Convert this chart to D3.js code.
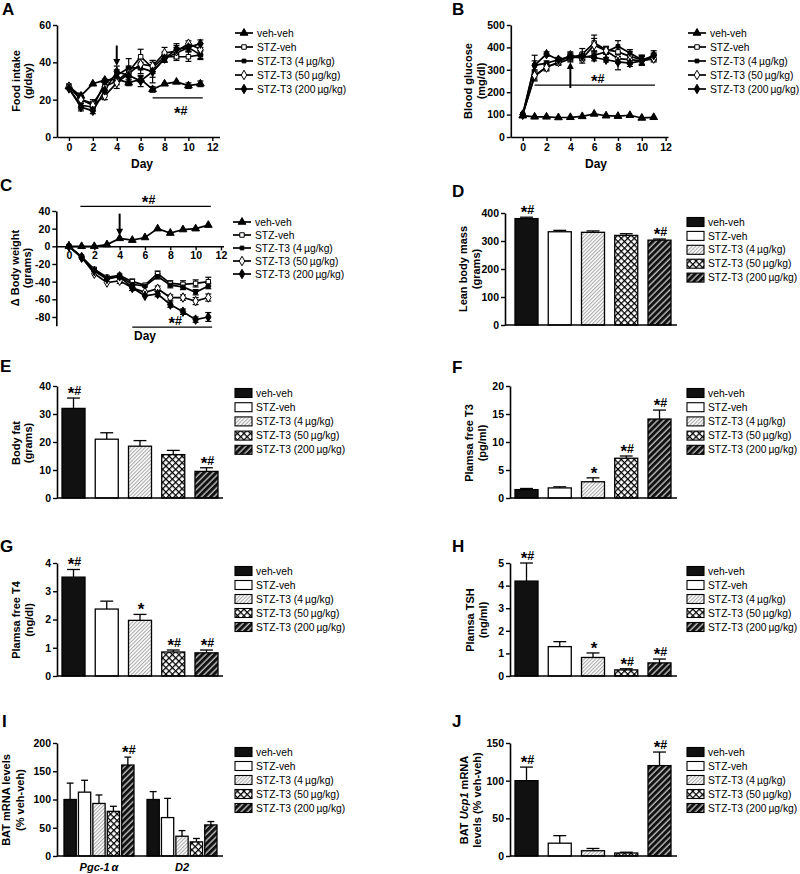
<!DOCTYPE html>
<html><head><meta charset="utf-8">
<script src="https://cdn.jsdelivr.net/npm/d3@7"></script>
<style>
body{margin:0;background:#fff}
svg text{font-family:"Liberation Sans",Arial,Helvetica,sans-serif;fill:#000}
</style></head><body>
<svg id="fig" width="800" height="874"></svg>
<script>
// ---------------- DATA ----------------
const groups = ["veh-veh","STZ-veh","STZ-T3 (4\u2009\u00b5g/kg)","STZ-T3 (50\u2009\u00b5g/kg)","STZ-T3 (200\u2009\u00b5g/kg)"];
const days = [0,1,2,3,4,5,6,7,8,9,10,11];
const dayTicks = [0,2,4,6,8,10,12];

// A: Food intake (g/day)
const foodVehVeh   = [27,22,28.5,30.5,31,29,31,25.5,28.5,29.5,27.5,28.5];
const foodVehVehErr= [1,1.5,1,1,1,1.5,1.5,1.5,1,1,1.5,1.5];
const foodStzVeh   = [27.5,20,18,27,30,35,43,37,43,43,43,44];
const foodStzVehErr= [1,2,2,2,2,3,4,3,2.5,2,2.5,2.5];
const foodT3_4     = [26,17,16,29,33,37,37,35,42,45,48,44];
const foodT3_4Err  = [1,2,1.5,2,3,5,3,3,2,3,2,2];
const foodT3_50    = [27,20,17,22,29,34,39,38,45,46,50,47];
const foodT3_50Err = [1,2,1.5,2,3,3,3,3,3,3,1.5,3];
const foodT3_200   = [26,16,14,25,35,33,30,35,42,47,48,50];
const foodT3_200Err= [1,2,1.5,2,3,4,3,6,2,3,2,2];
const foodTicks = [0,20,40,60];

// B: Blood glucose (mg/dl)
const glucVehVeh   = [95,90,90,87,88,92,103,95,93,97,85,88];
const glucVehVehErr= [5,5,5,5,5,5,6,5,5,5,5,5];
const glucStzVeh   = [100,270,315,330,350,370,420,390,380,360,345,360];
const glucStzVehErr= [5,20,15,10,15,25,35,15,20,20,20,15];
const glucT3_4     = [100,320,330,345,355,355,365,380,405,375,345,355];
const glucT3_4Err  = [5,45,10,10,15,15,15,10,25,15,20,15];
const glucT3_50    = [100,275,310,335,365,350,410,385,350,345,340,350];
const glucT3_50Err = [5,20,15,10,15,20,30,15,20,20,20,15];
const glucT3_200   = [100,320,370,345,360,360,355,345,335,330,340,365];
const glucT3_200Err= [5,20,10,10,15,15,15,10,35,15,20,20];
const glucTicks = [0,100,200,300,400,500];

// C: Delta body weight (grams)
const bwVehVeh   = [0,0,0,2,9,7,10,20,15,19,20,24];
const bwVehVehErr= [0.5,1,1,1,1,1,1,2,1.5,1.5,1.5,2];
const bwStzVeh   = [0,-12,-26,-35,-33,-40,-44,-31,-42,-43,-42,-40];
const bwStzVehErr= [1,1.5,2,2,2,3,2,3,3,4,4,5];
const bwT3_4     = [0,-12,-27,-36,-34,-43,-45,-34,-44,-46,-52,-45];
const bwT3_4Err  = [1,1.5,2,2,2,3,2,3,3,3,3,3];
const bwT3_50    = [0,-12,-31,-41,-39,-47,-52,-48,-58,-58,-62,-58];
const bwT3_50Err = [1,1.5,2,2,3,3,2,3,3,3,4,4];
const bwT3_200   = [0,-13,-28,-37,-34,-47,-56,-54,-66,-74,-83,-80];
const bwT3_200Err= [1,1.5,2,2,2,3,2,3,3,3,3,5];
const bwTicks = [-80,-60,-40,-20,0,20,40];

// D-J: bar panels
const leanMass = [380,333,331,320,303];   const leanMassErr = [5,5,5,6,4];   const leanMassSig = ["*#","","","","*#"];
const bodyFat  = [32,21,18.5,15.5,9.5];   const bodyFatErr  = [3.7,2.3,2,1.5,1.3]; const bodyFatSig = ["*#","","","","*#"];
const freeT3   = [1.5,1.8,2.9,7.1,14.1];  const freeT3Err   = [0.2,0.2,0.7,0.4,1.6]; const freeT3Sig = ["","","*","*#","*#"];
const freeT4   = [3.5,2.37,1.97,0.85,0.82]; const freeT4Err = [0.27,0.28,0.21,0.07,0.1]; const freeT4Sig = ["*#","","*","*#","*#"];
const tsh      = [4.2,1.3,0.82,0.27,0.58]; const tshErr     = [0.8,0.22,0.2,0.05,0.17]; const tshSig = ["*#","","*","*#","*#"];
const genesI   = ["Pgc-1","D2"];
const pgc1a    = [100,113,93,79,161];     const pgc1aErr    = [29,21,15,9,14];  const pgc1aSig = ["","","","","*#"];
const d2       = [100,68,35,25,55];       const d2Err       = [14,34,10,6,6];   const d2Sig = ["","","","",""];
const ucp1     = [100,17,7,4,120];        const ucp1Err     = [18,10,3,1,18];   const ucp1Sig = ["*#","","","","*#"];

// ---------------- DRAWING ----------------
const svg = d3.select("#fig");
const defs = svg.append("defs");
let p = defs.append("pattern").attr("id","pLight").attr("patternUnits","userSpaceOnUse")
  .attr("width",2.6).attr("height",2.6).attr("patternTransform","rotate(45)");
p.append("rect").attr("width",2.6).attr("height",2.6).attr("fill","#fff");
p.append("line").attr("x1",0.6).attr("y1",0).attr("x2",0.6).attr("y2",2.6).attr("stroke","#999").attr("stroke-width",0.9);
p = defs.append("pattern").attr("id","pCross").attr("patternUnits","userSpaceOnUse")
  .attr("width",4.6).attr("height",4.6).attr("patternTransform","rotate(45)");
p.append("rect").attr("width",4.6).attr("height",4.6).attr("fill","#fff");
p.append("line").attr("x1",0).attr("y1",0.6).attr("x2",4.6).attr("y2",0.6).attr("stroke","#000").attr("stroke-width",1.3);
p.append("line").attr("x1",0.6).attr("y1",0).attr("x2",0.6).attr("y2",4.6).attr("stroke","#000").attr("stroke-width",1.3);
p = defs.append("pattern").attr("id","pDark").attr("patternUnits","userSpaceOnUse")
  .attr("width",4.4).attr("height",4.4).attr("patternTransform","rotate(45)");
p.append("rect").attr("width",4.4).attr("height",4.4).attr("fill","#111");
p.append("line").attr("x1",1).attr("y1",0).attr("x2",1).attr("y2",4.4).attr("stroke","#fff").attr("stroke-width",1);

const fills = ["#111","#fff","url(#pLight)","url(#pCross)","url(#pDark)"];
const syms = [
  {type:d3.symbolTriangle, fill:"#000", size:26},
  {type:d3.symbolSquare,   fill:"#fff", size:20},
  {type:d3.symbolSquare,   fill:"#000", size:14},
  {type:d3.symbolDiamond,  fill:"#fff", size:26},
  {type:d3.symbolDiamond,  fill:"#000", size:26}
];

function styleAxis(a){
  a.select(".domain").attr("stroke","#000").attr("stroke-width",1.6);
  a.selectAll(".tick line").attr("stroke","#000").attr("stroke-width",1.4);
  a.selectAll("text").attr("font-size","10.5px").attr("font-weight","bold").attr("fill","#000")
   .attr("font-family","'Liberation Sans',Arial,sans-serif");
}
function panelLabel(t,x,y){
  svg.append("text").attr("x",x).attr("y",y).attr("font-size","17px").attr("font-weight","bold").text(t);
}
function yTitle(lines, xs, cy){
  lines.forEach((segs,i)=>{
    const t = svg.append("text").attr("transform",`translate(${xs[i]},${cy}) rotate(-90)`)
      .attr("text-anchor","middle").attr("font-size","11px").attr("font-weight","bold");
    segs.forEach(s=>{ const ts=t.append("tspan").text(s.t); if(s.i) ts.attr("font-style","italic"); });
  });
}
function sigText(g,cx,bottom,str){
  if(!str) return;
  const t = g.append("text").attr("x",cx).attr("y",bottom).attr("text-anchor","middle").attr("font-weight","bold");
  if(str.includes("*")) t.append("tspan").attr("font-size","17px").attr("dy",4).text("*");
  if(str.includes("#")) t.append("tspan").attr("font-size","12.5px").attr("dy",str.includes("*")?-4:0).text("#");
}
function arrow(g,x,y1,y2){
  const dir = y2>y1 ? 1 : -1;
  g.append("line").attr("x1",x).attr("x2",x).attr("y1",y1).attr("y2",y2-dir*6).attr("stroke","#000").attr("stroke-width",2);
  g.append("path").attr("d",`M${x-3.5},${y2-dir*7}L${x+3.5},${y2-dir*7}L${x},${y2}Z`).attr("fill","#000");
}

function linePanel(o){
  const g = svg.append("g");
  const x = d3.scaleLinear().domain(o.xDom).range(o.xRange);
  const y = d3.scaleLinear().domain(o.yDom).range(o.yRange);
  const xa = g.append("g").attr("transform",`translate(0,${y(o.xAxisAt)})`)
    .call(d3.axisBottom(x).tickValues(dayTicks).tickSize(4).tickSizeOuter(0).tickPadding(o.xPad).tickFormat(d=>String(d)));
  styleAxis(xa);
  const ya = g.append("g").attr("transform",`translate(${o.xRange[0]},0)`)
    .call(d3.axisLeft(y).tickValues(o.yTicks).tickSize(4).tickSizeOuter(0).tickPadding(2).tickFormat(d=>String(d)));
  styleAxis(ya);
  const line = d3.line().x((d,j)=>x(days[j])).y(d=>y(d));
  o.series.forEach(s=>{
    g.append("path").datum(s.v).attr("d",line).attr("fill","none").attr("stroke","#000").attr("stroke-width",1.7);
  });
  o.series.forEach(s=>{
    s.v.forEach((d,j)=>{
      const e=s.e[j], cx=x(days[j]), yt=y(d+e), yb=y(d-e);
      if(Math.abs(yb-yt)<4) return;
      g.append("line").attr("x1",cx).attr("x2",cx).attr("y1",yt).attr("y2",yb).attr("stroke","#000").attr("stroke-width",1.2);
      [yt,yb].forEach(yy=>g.append("line").attr("x1",cx-3).attr("x2",cx+3).attr("y1",yy).attr("y2",yy).attr("stroke","#000").attr("stroke-width",1.2));
    });
  });
  o.series.forEach((s,i)=>{
    const sy=syms[i];
    s.v.forEach((d,j)=>{
      g.append("path").attr("d",d3.symbol().type(sy.type).size(sy.size)())
        .attr("transform",`translate(${x(days[j])},${y(d)})`)
        .attr("fill",sy.fill).attr("stroke","#000").attr("stroke-width",1);
    });
  });
  o.sig.forEach(s=>{
    const ly=y(s.level);
    g.append("line").attr("x1",x(s.from)).attr("x2",x(s.to)).attr("y1",ly).attr("y2",ly).attr("stroke","#000").attr("stroke-width",1.3);
    const cx=(x(s.from)+x(s.to))/2+3;
    sigText(g,cx, s.below ? ly+17 : ly-2, "*#");
  });
  arrow(g, x(o.arrow.day), y(o.arrow.from), y(o.arrow.to));
  g.append("text").attr("x",o.dayX).attr("y",o.dayY).attr("text-anchor","middle").attr("font-size","12px").attr("font-weight","bold").text("Day");
  groups.forEach((name,i)=>{
    const ly=o.legY0+i*o.legStep;
    g.append("line").attr("x1",o.legX).attr("x2",o.legX+18).attr("y1",ly).attr("y2",ly).attr("stroke","#000").attr("stroke-width",1.7);
    g.append("path").attr("d",d3.symbol().type(syms[i].type).size(syms[i].size)())
      .attr("transform",`translate(${o.legX+9},${ly})`).attr("fill",syms[i].fill).attr("stroke","#000").attr("stroke-width",1);
    g.append("text").attr("x",o.legX+22).attr("y",ly).attr("dy","0.35em").attr("font-size","10.3px").text(name);
  });
}

function barPanel(o){
  const g = svg.append("g");
  const cats = o.cats;
  const outer = d3.scaleBand().domain(cats.map(c=>c.label)).range(o.barRange).paddingInner(o.outerPad||0).paddingOuter(0);
  const inner = d3.scaleBand().domain(groups).range([0,outer.bandwidth()]).paddingInner(o.innerPad).paddingOuter(0);
  const y = d3.scaleLinear().domain([0,o.yMax]).range([o.y0,o.yTop]);
  const bw = inner.bandwidth();
  cats.forEach(c=>{
    groups.forEach((gn,i)=>{
      const bx = outer(c.label)+inner(gn), v=c.values[i], e=c.errs[i];
      const cx = bx+bw/2;
      g.append("line").attr("x1",cx).attr("x2",cx).attr("y1",y(v)).attr("y2",y(v+e)).attr("stroke","#000").attr("stroke-width",1.3);
      g.append("line").attr("x1",cx-bw*0.28).attr("x2",cx+bw*0.28).attr("y1",y(v+e)).attr("y2",y(v+e)).attr("stroke","#000").attr("stroke-width",1.3);
      g.append("rect").attr("x",bx).attr("y",y(v)).attr("width",bw).attr("height",o.y0-y(v))
        .attr("fill",fills[i]).attr("stroke","#000").attr("stroke-width",1.3);
      sigText(g,cx+1,y(v+e)-3,c.sig[i]);
    });
    if(o.showCats){
      const t=g.append("text").attr("x",outer(c.label)+outer.bandwidth()/2).attr("y",o.y0+15).attr("text-anchor","middle")
        .attr("font-size","11px").attr("font-weight","bold").attr("font-style","italic").text(c.label);
      if(c.suffix) t.append("tspan").attr("dx",2).attr("font-style","italic").text(c.suffix);
    }
  });
  g.append("line").attr("x1",o.axisX).attr("x2",o.axisEnd).attr("y1",o.y0).attr("y2",o.y0).attr("stroke","#000").attr("stroke-width",1.6);
  const ya = g.append("g").attr("transform",`translate(${o.axisX},0)`)
    .call(d3.axisLeft(y).tickValues(o.yTicks).tickSize(4).tickSizeOuter(0).tickPadding(2).tickFormat(d=>String(d)));
  styleAxis(ya);
  groups.forEach((name,i)=>{
    const ly=o.legY0+i*o.legStep;
    g.append("rect").attr("x",o.legX).attr("y",ly-4.5).attr("width",17).attr("height",9)
      .attr("fill",fills[i]).attr("stroke","#000").attr("stroke-width",1.1);
    g.append("text").attr("x",o.legX+21).attr("y",ly).attr("dy","0.35em").attr("font-size","10.3px").text(name);
  });
}

const ser = (a,b,c,d,e,ae,be,ce,de,ee)=>[{v:a,e:ae},{v:b,e:be},{v:c,e:ce},{v:d,e:de},{v:e,e:ee}];

panelLabel("A",2,15);
linePanel({xDom:[-1,12.6], xRange:[57,219.5], yDom:[0,60], yRange:[137,25], yTicks:foodTicks, xAxisAt:0, xPad:3,
  series: ser(foodVehVeh,foodStzVeh,foodT3_4,foodT3_50,foodT3_200,foodVehVehErr,foodStzVehErr,foodT3_4Err,foodT3_50Err,foodT3_200Err),
  sig:[{from:7,to:11.2,level:21,below:true}], arrow:{day:4,from:49,to:38},
  dayX:142, dayY:168, legX:235, legY0:33, legStep:14});
yTitle([[{t:"Food intake"}],[{t:"(g/day)"}]],[20,32],81);

panelLabel("B",452,15);
linePanel({xDom:[-1,12.2], xRange:[510.8,668], yDom:[0,500], yRange:[137,25], yTicks:glucTicks, xAxisAt:0, xPad:3,
  series: ser(glucVehVeh,glucStzVeh,glucT3_4,glucT3_50,glucT3_200,glucVehVehErr,glucStzVehErr,glucT3_4Err,glucT3_50Err,glucT3_200Err),
  sig:[{from:1,to:11.1,level:232,below:false}], arrow:{day:4,from:219,to:335},
  dayX:596, dayY:168, legX:688, legY0:33, legStep:14});
yTitle([[{t:"Blood glucose"}],[{t:"(mg/dl)"}]],[472,485],81);

panelLabel("C",0,191);
linePanel({xDom:[-1,12.2], xRange:[56.3,223.5], yDom:[-90,40], yRange:[325.8,211], yTicks:bwTicks, xAxisAt:0, xPad:1,
  series: ser(bwVehVeh,bwStzVeh,bwT3_4,bwT3_50,bwT3_200,bwVehVehErr,bwStzVehErr,bwT3_4Err,bwT3_50Err,bwT3_200Err),
  sig:[{from:0.9,to:11.2,level:45.3,below:false},{from:5,to:11.3,level:-91.6,below:false}], arrow:{day:4,from:37,to:12},
  dayX:145, dayY:340, legX:233, legY0:222, legStep:13});
yTitle([[{t:"\u0394 Body weight"}],[{t:"(grams)"}]],[19,31],268);

panelLabel("D",452,197);
barPanel({cats:[{label:"lean",values:leanMass,errs:leanMassErr,sig:leanMassSig}], barRange:[515,671], innerPad:0.308,
  axisX:505, axisEnd:677, y0:325, yTop:213, yMax:400, yTicks:[0,100,200,300,400], legX:687, legY0:222, legStep:13.9});
yTitle([[{t:"Lean body mass"}],[{t:"(grams)"}]],[467,480],269);

panelLabel("E",0,372);
barPanel({cats:[{label:"fat",values:bodyFat,errs:bodyFatErr,sig:bodyFatSig}], barRange:[62,218], innerPad:0.308,
  axisX:57, axisEnd:223, y0:498, yTop:386, yMax:40, yTicks:[0,10,20,30,40], legX:235, legY0:393, legStep:14.2});
yTitle([[{t:"Body fat"}],[{t:"(grams)"}]],[20,32],443);

panelLabel("F",452,373);
barPanel({cats:[{label:"t3",values:freeT3,errs:freeT3Err,sig:freeT3Sig}], barRange:[515,671], innerPad:0.308,
  axisX:510, axisEnd:677, y0:498, yTop:386, yMax:20, yTicks:[0,5,10,15,20], legX:687, legY0:393, legStep:14.2});
yTitle([[{t:"Plamsa free T3"}],[{t:"(pg/ml)"}]],[473,486],443);

panelLabel("G",0,552);
barPanel({cats:[{label:"t4",values:freeT4,errs:freeT4Err,sig:freeT4Sig}], barRange:[62,218], innerPad:0.308,
  axisX:57, axisEnd:223, y0:676, yTop:563, yMax:4, yTicks:[0,1,2,3,4], legX:235, legY0:571, legStep:14});
yTitle([[{t:"Plamsa free T4"}],[{t:"(ng/dl)"}]],[20,33],620);

panelLabel("H",452,552);
barPanel({cats:[{label:"tsh",values:tsh,errs:tshErr,sig:tshSig}], barRange:[515,671], innerPad:0.308,
  axisX:510, axisEnd:677, y0:676, yTop:563, yMax:5, yTicks:[0,1,2,3,4,5], legX:687, legY0:571, legStep:14});
yTitle([[{t:"Plamsa TSH"}],[{t:"(ng/ml)"}]],[474,487],620);

panelLabel("I",2,727);
barPanel({cats:[{label:genesI[0],suffix:"\u03b1",values:pgc1a,errs:pgc1aErr,sig:pgc1aSig},{label:genesI[1],values:d2,errs:d2Err,sig:d2Sig}],
  barRange:[64,217], outerPad:0.157, innerPad:0.15, showCats:true,
  axisX:57, axisEnd:223, y0:856, yTop:743, yMax:200, yTicks:[0,50,100,150,200], legX:235, legY0:752, legStep:14});
yTitle([[{t:"BAT mRNA levels"}],[{t:"(% veh-veh)"}]],[10,24],800);

panelLabel("J",452,727);
barPanel({cats:[{label:"ucp1",values:ucp1,errs:ucp1Err,sig:ucp1Sig}], barRange:[515,671], innerPad:0.308,
  axisX:510, axisEnd:677, y0:856, yTop:743, yMax:150, yTicks:[0,50,100,150], legX:687, legY0:752, legStep:14});
yTitle([[{t:"BAT "},{t:"Ucp1",i:true},{t:" mRNA"}],[{t:"levels (% veh-veh)"}]],[468,481],800);
</script></body></html>
